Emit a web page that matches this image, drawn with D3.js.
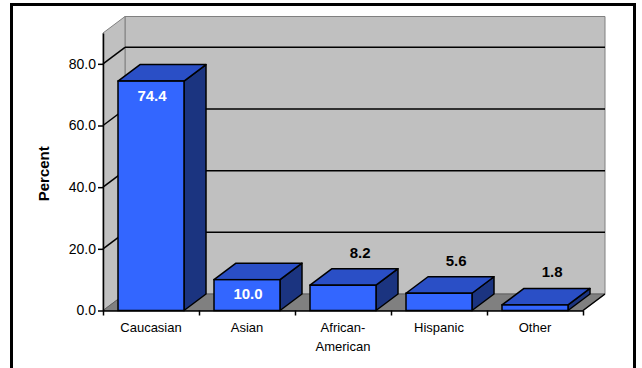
<!DOCTYPE html>
<html>
<head>
<meta charset="utf-8">
<script src="https://cdn.jsdelivr.net/npm/d3@7/dist/d3.min.js"></script>
<style>
  html, body { margin: 0; padding: 0; background: #fff; }
  svg { display: block; }
  text { font-family: "Liberation Sans", Arial, sans-serif; }
</style>
</head>
<body>
<svg id="chart" width="642" height="368"></svg>
<script>
// ---- data ----
const categories = ["Caucasian", "Asian", "African-American", "Hispanic", "Other"];
const values = [74.4, 10.0, 8.2, 5.6, 1.8];
const yTicks = [0, 20, 40, 60, 80];
const yMax = 90;
const yTitle = "Percent";

// ---- layout ----
const W = 642, H = 368;
const plotLeft = 103, plotRight = 583, plotBottom = 310.5, plotTop = 33;
const DX = 22, DY = -16.5;   // 3D depth offset

const colors = {
  wall: "#c0c0c0", wallEdge: "#808080", floor: "#808080",
  front: "#3366ff", top: "#2a4fc6", side: "#1b3480"
};

const svg = d3.select("#chart");

// outer frame
svg.append("rect")
  .attr("x", 11.5).attr("y", 4.5).attr("width", 623).attr("height", H + 20)
  .attr("fill", "#fff").attr("stroke", "#000").attr("stroke-width", 3);

const x = d3.scaleBand().domain(categories).range([plotLeft, plotRight])
  .paddingInner(0.3125).paddingOuter(0.15625);
const y = d3.scaleLinear().domain([0, yMax]).range([plotBottom, plotTop]);
const xEdge = d3.scaleLinear().domain([0, categories.length]).range([plotLeft, plotRight]);

const g = svg.append("g");
const pts = a => a.map(p => p.join(",")).join(" ");

// back wall
g.append("polygon")
  .attr("points", pts([[plotLeft + DX, y(yMax) + DY], [plotRight + DX, y(yMax) + DY],
                       [plotRight + DX, y(0) + DY], [plotLeft + DX, y(0) + DY]]))
  .attr("fill", colors.wall).attr("stroke", colors.wallEdge).attr("stroke-width", 1);

// side wall
g.append("polygon")
  .attr("points", pts([[plotLeft, y(yMax)], [plotLeft + DX, y(yMax) + DY],
                       [plotLeft + DX, y(0) + DY], [plotLeft, y(0)]]))
  .attr("fill", colors.wall).attr("stroke", colors.wallEdge).attr("stroke-width", 1);

// floor
g.append("polygon")
  .attr("points", pts([[plotLeft, y(0)], [plotRight, y(0)],
                       [plotRight + DX, y(0) + DY], [plotLeft + DX, y(0) + DY]]))
  .attr("fill", colors.floor).attr("stroke", "#606060").attr("stroke-width", 1);
g.append("line")
  .attr("x1", plotRight).attr("y1", y(0)).attr("x2", plotRight + DX).attr("y2", y(0) + DY)
  .attr("stroke", "#000").attr("stroke-width", 1.5);

// gridlines (back wall + side wall)
const grid = yTicks.filter(v => v > 0);
g.selectAll(".gridBack").data(grid).join("line")
  .attr("x1", plotLeft + DX).attr("x2", plotRight + DX)
  .attr("y1", d => y(d) + DY).attr("y2", d => y(d) + DY)
  .attr("stroke", "#000").attr("stroke-width", 1.5);
g.selectAll(".gridSide").data(grid).join("line")
  .attr("x1", plotLeft).attr("x2", plotLeft + DX)
  .attr("y1", d => y(d)).attr("y2", d => y(d) + DY)
  .attr("stroke", "#000").attr("stroke-width", 1.5);

// bars
const bars = g.selectAll(".bar").data(categories.map((c, i) => ({ c, v: values[i] }))).join("g");
bars.each(function (d) {
  const b = d3.select(this);
  const x0 = x(d.c), x1 = x(d.c) + x.bandwidth(), yt = y(d.v), yb = y(0);
  b.append("polygon")
    .attr("points", pts([[x1, yt], [x1 + DX, yt + DY], [x1 + DX, yb + DY], [x1, yb]]))
    .attr("fill", colors.side).attr("stroke", "#000").attr("stroke-width", 1.5).attr("stroke-linejoin", "round");
  b.append("polygon")
    .attr("points", pts([[x0, yt], [x0 + DX, yt + DY], [x1 + DX, yt + DY], [x1, yt]]))
    .attr("fill", colors.top).attr("stroke", "#000").attr("stroke-width", 1.5).attr("stroke-linejoin", "round");
  b.append("rect")
    .attr("x", x0).attr("y", yt).attr("width", x.bandwidth()).attr("height", yb - yt)
    .attr("fill", colors.front).attr("stroke", "#000").attr("stroke-width", 1.5);
});

// value labels
bars.append("text")
  .attr("x", d => d.v >= 10 ? x(d.c) + x.bandwidth() / 2 + 1 : x(d.c) + x.bandwidth() / 2 + DX * 0.78)
  .attr("y", d => d.v >= 10 ? y(d.v) + 19.5 : y(d.v) + DY - 11)
  .attr("text-anchor", "middle")
  .attr("font-size", 15).attr("font-weight", "bold")
  .attr("fill", d => d.v >= 10 ? "#fff" : "#000")
  .text(d => d3.format(".1f")(d.v));

// y axis
const yAxis = d3.axisLeft(y).tickValues(yTicks).tickFormat(d3.format(".1f"))
  .tickSize(5).tickSizeOuter(0).tickPadding(2);
const ya = svg.append("g").attr("transform", `translate(${plotLeft},0)`).call(yAxis);
ya.select(".domain").attr("stroke", "#000").attr("stroke-width", 1.5);
ya.selectAll(".tick line").attr("stroke", "#000").attr("stroke-width", 1.5);
ya.selectAll(".tick text").attr("font-size", 14).attr("fill", "#000")
  .attr("font-family", "'Liberation Sans', Arial, sans-serif");

// x axis line + boundary ticks
const xAxis = d3.axisBottom(xEdge).tickValues(d3.range(categories.length + 1))
  .tickFormat("").tickSize(5).tickSizeOuter(0);
const xa = svg.append("g").attr("transform", `translate(0,${plotBottom})`).call(xAxis);
xa.select(".domain").attr("stroke", "#000").attr("stroke-width", 1.5);
xa.selectAll(".tick line").attr("stroke", "#000").attr("stroke-width", 1.5);

// category labels
const cl = svg.append("g").selectAll("text").data(categories).join("text")
  .attr("x", d => x(d) + x.bandwidth() / 2)
  .attr("y", plotBottom + 21)
  .attr("text-anchor", "middle")
  .attr("font-size", 13).attr("fill", "#000");
cl.each(function (d) {
  const parts = d.includes("-") ? [d.split("-")[0] + "-", d.split("-")[1]] : [d];
  const t = d3.select(this);
  parts.forEach((p, i) => {
    t.append("tspan").attr("x", x(d) + x.bandwidth() / 2).attr("dy", i === 0 ? 0 : 19.5).text(p);
  });
});

// y title
svg.append("text")
  .attr("transform", `translate(48.5,${(plotTop + plotBottom) / 2 + 2}) rotate(-90)`)
  .attr("text-anchor", "middle")
  .attr("font-size", 15).attr("font-weight", "bold").attr("fill", "#000")
  .text(yTitle);
</script>
</body>
</html>
